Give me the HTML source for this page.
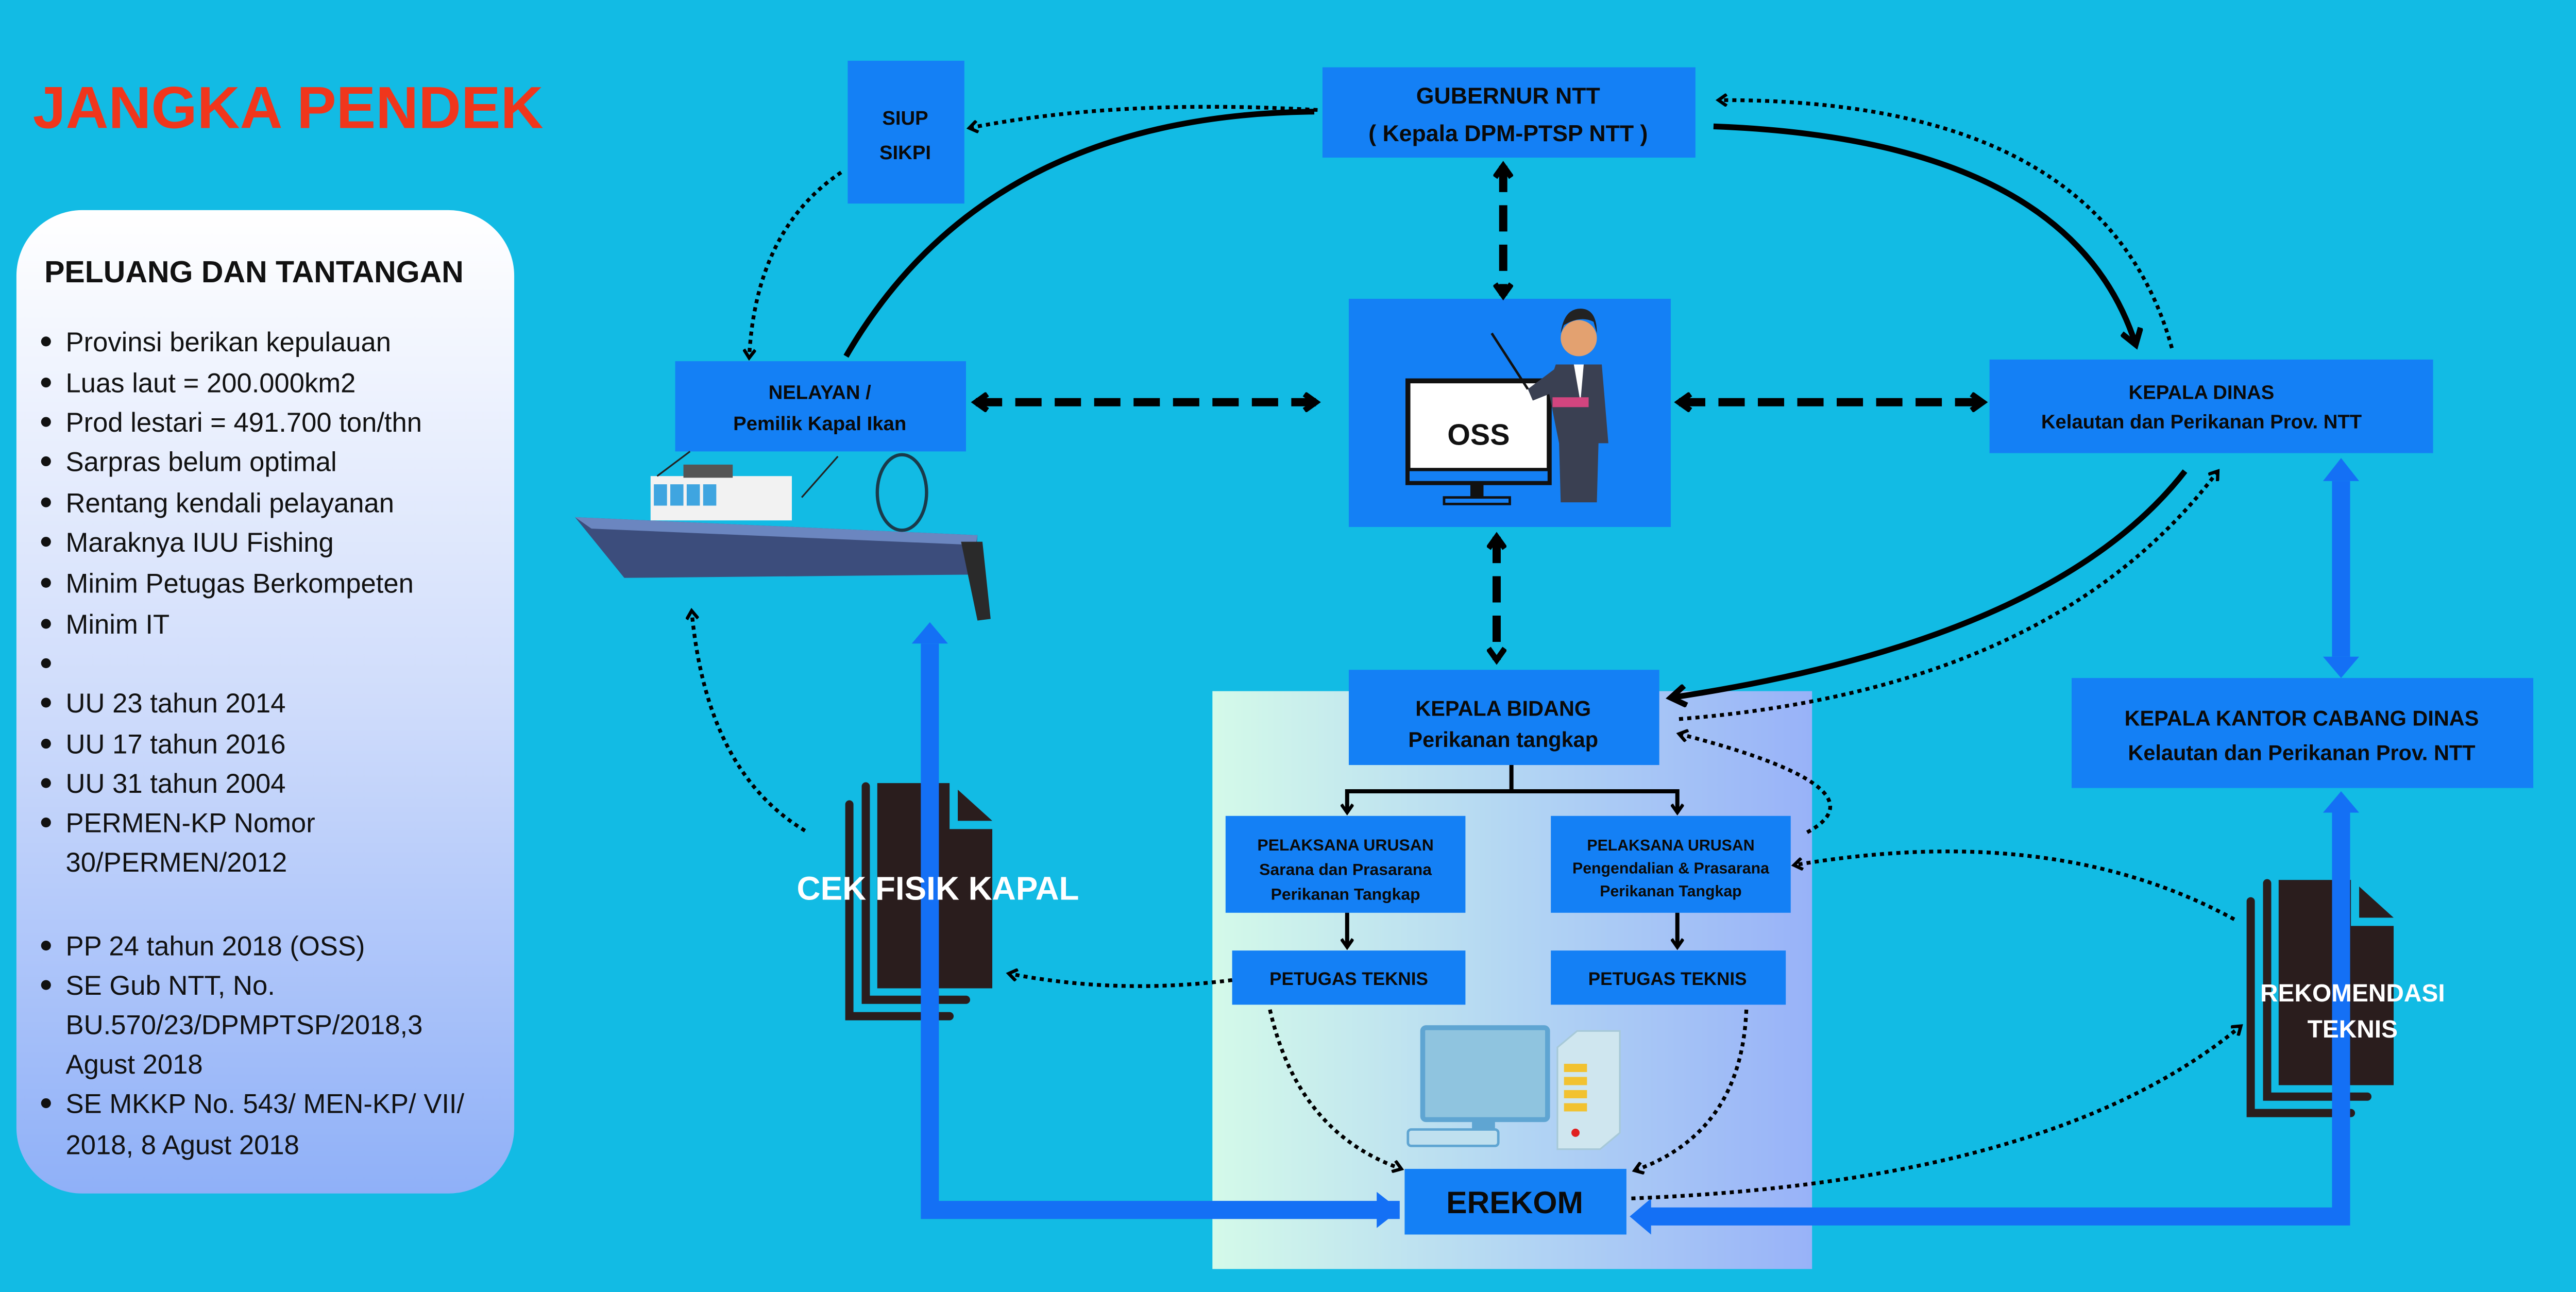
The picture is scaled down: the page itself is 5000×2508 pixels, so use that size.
<!DOCTYPE html>
<html><head><meta charset="utf-8"><style>
html,body{margin:0;padding:0;background:#12bbe4;}
svg{display:block;}
text{font-family:"Liberation Sans",sans-serif;}
</style></head><body>
<svg width="5000" height="2508" viewBox="0 0 1568 787" preserveAspectRatio="none" xmlns="http://www.w3.org/2000/svg">
<defs>
<linearGradient id="lp" x1="0" y1="0" x2="0" y2="1"><stop offset="0" stop-color="#ffffff"/><stop offset="0.5" stop-color="#cfdcfb"/><stop offset="1" stop-color="#8fb0f8"/></linearGradient>
<linearGradient id="mp" x1="0" y1="0" x2="1" y2="0"><stop offset="0" stop-color="#d4fae9"/><stop offset="0.5" stop-color="#b3d6f3"/><stop offset="1" stop-color="#98b2f8"/></linearGradient>
<marker id="ah" markerWidth="8" markerHeight="8" refX="6" refY="4" orient="auto" markerUnits="userSpaceOnUse"><path d="M1,0.5 L6,4 L1,7.5" fill="none" stroke="#000" stroke-width="2"/></marker>
<marker id="ahb" markerWidth="14" markerHeight="14" refX="10" refY="7" orient="auto" markerUnits="userSpaceOnUse"><path d="M1,1 L10,7 L1,13" fill="none" stroke="#000" stroke-width="3.5"/></marker>
<marker id="ahs" markerWidth="12" markerHeight="12" refX="8" refY="6" orient="auto-start-reverse" markerUnits="userSpaceOnUse"><path d="M1,1 L8,6 L1,11" fill="none" stroke="#000" stroke-width="3.5"/></marker>
</defs>
<rect width="1568" height="787" fill="#12bbe4"/>

<text x="20" y="78" font-size="36" font-weight="bold" fill="#f0361c">JANGKA PENDEK</text>

<rect x="10" y="128" width="303" height="599" rx="40" fill="url(#lp)"/>
<text x="27" y="172" font-size="18.5" font-weight="bold" fill="#111">PELUANG DAN TANTANGAN</text>
<g font-size="16.5" fill="#111">
<text x="40" y="214">Provinsi berikan kepulauan</text>
<text x="40" y="239">Luas laut = 200.000km2</text>
<text x="40" y="263">Prod lestari = 491.700 ton/thn</text>
<text x="40" y="287">Sarpras belum optimal</text>
<text x="40" y="312">Rentang kendali pelayanan</text>
<text x="40" y="336">Maraknya IUU Fishing</text>
<text x="40" y="361">Minim Petugas Berkompeten</text>
<text x="40" y="386">Minim IT</text>
<text x="40" y="434">UU 23 tahun 2014</text>
<text x="40" y="459">UU 17 tahun 2016</text>
<text x="40" y="483">UU 31 tahun 2004</text>
<text x="40" y="507">PERMEN-KP Nomor</text>
<text x="40" y="531">30/PERMEN/2012</text>
<text x="40" y="582">PP 24 tahun 2018 (OSS)</text>
<text x="40" y="606">SE Gub NTT, No.</text>
<text x="40" y="630">BU.570/23/DPMPTSP/2018,3</text>
<text x="40" y="654">Agust 2018</text>
<text x="40" y="678">SE MKKP No. 543/ MEN-KP/ VII/</text>
<text x="40" y="703">2018, 8 Agust 2018</text>
</g>
<g fill="#111">
<circle cx="28" cy="208" r="3"/><circle cx="28" cy="233" r="3"/><circle cx="28" cy="257" r="3"/><circle cx="28" cy="281" r="3"/><circle cx="28" cy="306" r="3"/><circle cx="28" cy="330" r="3"/><circle cx="28" cy="355" r="3"/><circle cx="28" cy="380" r="3"/><circle cx="28" cy="404" r="3"/><circle cx="28" cy="428" r="3"/><circle cx="28" cy="453" r="3"/><circle cx="28" cy="477" r="3"/><circle cx="28" cy="501" r="3"/><circle cx="28" cy="576" r="3"/><circle cx="28" cy="600" r="3"/><circle cx="28" cy="672" r="3"/>
</g>

<rect x="738" y="421" width="365" height="352" fill="url(#mp)"/>

<g fill="#1480f5">
<rect x="516" y="37" width="71" height="87"/>
<rect x="805" y="41" width="227" height="55"/>
<rect x="821" y="182" width="196" height="139"/>
<rect x="411" y="220" width="177" height="55"/>
<rect x="1211" y="219" width="270" height="57"/>
<rect x="821" y="408" width="189" height="58"/>
<rect x="1261" y="413" width="281" height="67"/>
<rect x="746" y="497" width="146" height="59"/>
<rect x="944" y="497" width="146" height="59"/>
<rect x="750" y="579" width="142" height="33"/>
<rect x="944" y="579" width="143" height="33"/>
<rect x="855" y="712" width="135" height="40"/>
</g>
<g fill="#0a0a0a" font-weight="bold" text-anchor="middle">
<text x="551" y="76" font-size="12">SIUP</text>
<text x="551" y="97" font-size="12">SIKPI</text>
<text x="918" y="63" font-size="14">GUBERNUR NTT</text>
<text x="918" y="86" font-size="14">( Kepala DPM-PTSP NTT )</text>
<text x="499" y="243" font-size="12">NELAYAN /</text>
<text x="499" y="262" font-size="12">Pemilik Kapal Ikan</text>
<text x="1340" y="243" font-size="12">KEPALA DINAS</text>
<text x="1340" y="261" font-size="12">Kelautan dan Perikanan Prov. NTT</text>
<text x="915" y="436" font-size="13">KEPALA BIDANG</text>
<text x="915" y="455" font-size="13">Perikanan tangkap</text>
<text x="1401" y="442" font-size="13">KEPALA KANTOR CABANG DINAS</text>
<text x="1401" y="463" font-size="13">Kelautan dan Perikanan Prov. NTT</text>
<text x="819" y="518" font-size="10">PELAKSANA URUSAN</text>
<text x="819" y="533" font-size="10">Sarana dan Prasarana</text>
<text x="819" y="548" font-size="10">Perikanan Tangkap</text>
<text x="1017" y="518" font-size="9.5">PELAKSANA URUSAN</text>
<text x="1017" y="532" font-size="9.5">Pengendalian &amp; Prasarana</text>
<text x="1017" y="546" font-size="9.5">Perikanan Tangkap</text>
<text x="821" y="600" font-size="11">PETUGAS TEKNIS</text>
<text x="1015" y="600" font-size="11">PETUGAS TEKNIS</text>
<text x="922" y="739" font-size="19">EREKOM</text>
</g>

<rect x="857" y="232" width="86" height="62" fill="#fff" stroke="#111" stroke-width="3"/>
<rect x="857" y="286" width="86" height="8" fill="#1480f5" stroke="#111" stroke-width="2"/>
<rect x="895" y="294" width="8" height="10" fill="#111"/>
<rect x="879" y="303" width="40" height="4" fill="#1480f5" stroke="#111" stroke-width="1.5"/>
<text x="900" y="271" font-size="18" font-weight="bold" text-anchor="middle" fill="#111">OSS</text>
<line x1="908" y1="203" x2="930" y2="237" stroke="#111" stroke-width="1.5"/>
<circle cx="961" cy="206" r="11" fill="#e3a170"/>
<path d="M950,203 Q952,188 962,188 Q972,188 972,203 L970,196 Q962,192 952,198Z" fill="#222"/>
<path d="M947,222 L975,222 L979,270 L973,270 L972,306 L950,306 L949,270 L943,240 L933,244 L930,237 L946,225Z" fill="#3a4052"/>
<path d="M958,222 L964,222 L962,245Z" fill="#fff"/>
<rect x="945" y="242" width="22" height="6" fill="#d2457f"/>

<path d="M350,315 L595,326 L593,350 L380,352 Z" fill="#3c4d7c"/>
<path d="M350,315 L595,326 L594,332 L360,322Z" fill="#6b86c0"/>
<path d="M585,330 L598,330 L603,377 L595,378Z" fill="#2a2a2a"/>
<rect x="396" y="290" width="86" height="27" fill="#f2f2f2"/>
<g fill="#3fa5e0"><rect x="398" y="295" width="8" height="13"/><rect x="408" y="295" width="8" height="13"/><rect x="418" y="295" width="8" height="13"/><rect x="428" y="295" width="8" height="13"/></g>
<rect x="416" y="283" width="30" height="8" fill="#555"/>
<ellipse cx="549" cy="300" rx="15" ry="23" fill="none" stroke="#1a3a4a" stroke-width="2"/>
<line x1="488" y1="303" x2="510" y2="278" stroke="#222" stroke-width="1"/>
<line x1="400" y1="290" x2="420" y2="275" stroke="#222" stroke-width="1"/>

<rect x="866" y="626" width="76" height="56" rx="2" fill="#8fc4df" stroke="#5fa5d2" stroke-width="3"/>
<rect x="896" y="682" width="14" height="8" fill="#5fa5d2"/>
<rect x="857" y="688" width="55" height="10" rx="2" fill="#bfe0ef" stroke="#5fa5d2" stroke-width="1.5"/>
<path d="M948,638 L960,628 L986,628 L986,690 L974,700 L948,700Z" fill="#cfe6ef" stroke="#a7c9d8" stroke-width="1"/>
<g fill="#f2c230"><rect x="952" y="648" width="14" height="5"/><rect x="952" y="656" width="14" height="5"/><rect x="952" y="664" width="14" height="5"/><rect x="952" y="672" width="14" height="5"/></g>
<circle cx="959" cy="690" r="2.5" fill="#e02020"/>

<g>
<path d="M517,490 L517,619 L578,619" fill="none" stroke="#2a1d1d" stroke-width="5" stroke-linecap="round"/>
<path d="M527,479 L527,609 L588,609" fill="none" stroke="#2a1d1d" stroke-width="5" stroke-linecap="round"/>
<path d="M534,477 L578,477 L578,505 L604,505 L604,602 L534,602Z" fill="#2a1d1d"/>
<path d="M583,481 L604,500 L583,500Z" fill="#2a1d1d"/>
</g>
<g transform="translate(853,59)">
<path d="M517,490 L517,619 L578,619" fill="none" stroke="#2a1d1d" stroke-width="5" stroke-linecap="round"/>
<path d="M527,479 L527,609 L588,609" fill="none" stroke="#2a1d1d" stroke-width="5" stroke-linecap="round"/>
<path d="M534,477 L578,477 L578,505 L604,505 L604,602 L534,602Z" fill="#2a1d1d"/>
<path d="M583,481 L604,500 L583,500Z" fill="#2a1d1d"/>
</g>

<g fill="none" stroke="#1470f5" stroke-width="11">
<path d="M852,737 L566,737 L566,392"/>
<path d="M1002,741 L1425,741 L1425,495"/>
<path d="M1425,293 L1425,400"/>
</g>
<g fill="#1470f5">
<path d="M555,392 L566,379 L577,392Z"/>
<path d="M1414,495 L1425,482 L1436,495Z"/>
<path d="M1414,293 L1425,279 L1436,293Z"/>
<path d="M1414,400 L1425,413 L1436,400Z"/>
<path d="M838,726 L852,737 L838,748Z"/>
<path d="M1005,730 L992,741 L1005,752Z"/>
</g>
<text x="485" y="548" font-size="20" font-weight="bold" fill="#fff">CEK FISIK KAPAL</text>
<text x="1432" y="610" font-size="15" font-weight="bold" fill="#fff" text-anchor="middle">REKOMENDASI</text>
<text x="1432" y="632" font-size="15" font-weight="bold" fill="#fff" text-anchor="middle">TEKNIS</text>

<g fill="none" stroke="#000" stroke-width="3.5">
<path d="M515,217 Q600,70 800,68" />
<path d="M1043,77 Q1260,85 1300,210" marker-end="url(#ahb)"/>
<path d="M1330,287 Q1250,390 1017,425" marker-end="url(#ahb)"/>
</g>
<g fill="none" stroke="#000" stroke-width="5" stroke-dasharray="16,8">
<path d="M594,245 L801,245" marker-start="url(#ahs)" marker-end="url(#ahs)"/>
<path d="M1022,245 L1207,245" marker-start="url(#ahs)" marker-end="url(#ahs)"/>
<path d="M915,101 L915,180" marker-start="url(#ahs)" marker-end="url(#ahs)"/>
<path d="M911,327 L911,402" marker-start="url(#ahs)" marker-end="url(#ahs)"/>
</g>
<g fill="none" stroke="#000" stroke-width="2.3" stroke-dasharray="2.5,2.5">
<path d="M802,67 Q680,60 590,78" marker-end="url(#ah)"/>
<path d="M512,105 Q460,140 456,218" marker-end="url(#ah)"/>
<path d="M1322,212 Q1280,60 1046,61" marker-end="url(#ah)"/>
<path d="M1022,438 Q1250,420 1350,287" marker-end="url(#ah)"/>
<path d="M1100,507 Q1150,480 1022,447" marker-end="url(#ah)"/>
<path d="M1360,560 Q1250,500 1092,527" marker-end="url(#ah)"/>
<path d="M750,597 Q680,606 614,593" marker-end="url(#ah)"/>
<path d="M773,615 Q790,690 853,712" marker-end="url(#ah)"/>
<path d="M1063,615 Q1060,690 995,713" marker-end="url(#ah)"/>
<path d="M993,730 Q1250,720 1364,625" marker-end="url(#ah)"/>
<path d="M490,506 Q430,470 421,372" marker-end="url(#ah)"/>
</g>
<g fill="none" stroke="#000" stroke-width="2.5">
<path d="M920,466 L920,482 L820,482 L820,495" marker-end="url(#ah)"/>
<path d="M920,482 L1021,482 L1021,495" marker-end="url(#ah)"/>
<path d="M820,556 L820,577" marker-end="url(#ah)"/>
<path d="M1021,556 L1021,577" marker-end="url(#ah)"/>
</g>
</svg>
</body></html>
